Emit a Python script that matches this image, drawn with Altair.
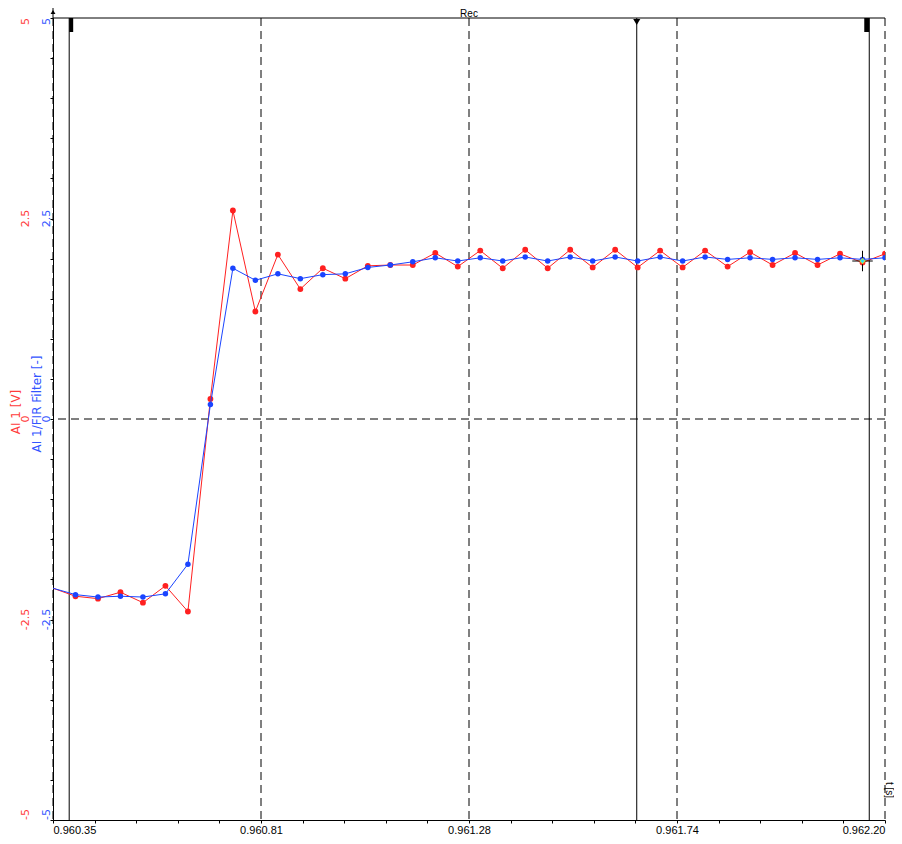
import altair as alt
import pandas as pd
import numpy as np

# ---------------- data ----------------
t = [0.96035, 0.96040, 0.96045, 0.96050, 0.96055, 0.96060, 0.96065, 0.96070,
     0.96075, 0.96080, 0.96085, 0.96090, 0.96095, 0.96100, 0.96105, 0.96110,
     0.96115, 0.96120, 0.96125, 0.96130, 0.96135, 0.96140, 0.96145, 0.96150,
     0.96155, 0.96160, 0.96165, 0.96170, 0.96175, 0.96180, 0.96185, 0.96190,
     0.96195, 0.96200, 0.96205, 0.96210, 0.96215, 0.96220]
ai1 = [-2.11, -2.21, -2.24, -2.16, -2.29, -2.08, -2.40, 0.25,
       2.60, 1.34, 2.05, 1.62, 1.88, 1.75, 1.91, 1.92,
       1.92, 2.07, 1.90, 2.10, 1.88, 2.11, 1.88, 2.11,
       1.89, 2.11, 1.89, 2.10, 1.89, 2.10, 1.90, 2.08,
       1.92, 2.07, 1.92, 2.06, 1.95, 2.06]
fir = [-2.11, -2.19, -2.22, -2.21, -2.22, -2.18, -1.81, 0.18,
       1.88, 1.73, 1.81, 1.75, 1.80, 1.81, 1.89, 1.92,
       1.96, 2.01, 1.97, 2.01, 1.97, 2.02, 1.97, 2.02,
       1.97, 2.02, 1.97, 2.02, 1.97, 2.02, 1.99, 2.01,
       1.99, 2.01, 1.99, 2.01, 1.99, 2.01]

x_tick_values = [0.96035, 0.9608125, 0.961275, 0.9617375, 0.9622]
x_tick_labels = ["0.960.35", "0.960.81", "0.961.28", "0.961.74", "0.962.20"]
y_tick_values = [-5, -2.5, 0, 2.5, 5]
y_tick_labels = ["-5", "-2.5", "0", "2.5", "5"]

cursor_positions = [0.960386, 0.961648, 0.962165]
crosshair_t = [0.96215]
crosshair_v = [1.97]

title_red = "AI 1 [V]"
title_blue = "AI 1/FIR Filter [-]"
title_x = "t [s]"
title_top = "Rec"

RED = "#ff2020"
BLUE = "#1a44ff"
RED_TXT = "#ff3b3b"
BLUE_TXT = "#3355ff"
FONT = "Liberation Sans"
FONT_Y = "DejaVu Sans"

# ---------------- layout ----------------
W, H = 832, 802
N_SUB = 10
x_minor = [round(float(v), 10) for v in
           np.linspace(x_tick_values[0], x_tick_values[-1], (len(x_tick_values) - 1) * N_SUB + 1)]
x_label_expr = ""
for v, lab in zip(x_tick_values, x_tick_labels):
    x_label_expr += "abs(datum.value-(%r))<1e-9?'%s':" % (v, lab)
x_label_expr += "''"

Y_SUB = 5
y_minor = [round(float(v), 6) for v in
           np.linspace(y_tick_values[0], y_tick_values[-1], (len(y_tick_values) - 1) * Y_SUB + 1)]

xs = alt.Scale(domain=[x_tick_values[0], x_tick_values[-1]], nice=False, zero=False)
ys = alt.Scale(domain=[y_tick_values[0], y_tick_values[-1]], nice=False, zero=False)

x_axis = alt.Axis(
    orient="bottom", values=x_minor, labelExpr=x_label_expr, labelFlush=True,
    labelOverlap=False, tickSize=3, tickColor="black", domainColor="black",
    labelColor="black", labelFont=FONT, labelFontSize=11, labelPadding=1,
    grid=False, title=None,
)
y_axis = alt.Axis(
    orient="left", values=y_minor, labels=False, tickSize=3, tickColor="black",
    domainColor="black", grid=False, title=None,
)

df = pd.DataFrame({"t": t, "ai1": ai1, "fir": fir})
pts_df = df[df["t"] > t[0] + 0.00001]
grid_df = pd.DataFrame({"t": x_tick_values})
zero_df = pd.DataFrame({"v": [0]})
cur_df = pd.DataFrame({"c": cursor_positions})
cross_df = pd.DataFrame({"t": crosshair_t, "v": crosshair_v})
frame_df = pd.DataFrame({"a": [x_tick_values[0]], "b": [x_tick_values[-1]]})
ylab_df = pd.DataFrame({"v": y_tick_values, "lab": y_tick_labels})
one = pd.DataFrame({"k": [0]})

# no axis=None anywhere: an explicit null axis in any layer disables the merged axis
X = lambda f: alt.X(f, scale=xs)
Y = lambda f: alt.Y(f, scale=ys)

# ---------------- layers ----------------
zero = alt.Chart(zero_df).mark_rule(color="black", strokeWidth=1, strokeDash=[8, 5]).encode(
    y=alt.Y("v:Q", scale=ys, axis=y_axis))
grid = alt.Chart(grid_df).mark_rule(color="black", strokeWidth=1, strokeDash=[8, 5]).encode(
    x=alt.X("t:Q", scale=xs, axis=x_axis))
frame_top = alt.Chart(frame_df).mark_rule(color="black", strokeWidth=1).encode(
    x=X("a:Q"), x2="b:Q", y=alt.value(0))

cursors = alt.Chart(cur_df).mark_rule(color="black", strokeWidth=1).encode(x=X("c:Q"))
cur1_mark = alt.Chart(cur_df.iloc[[0]]).mark_rule(color="black", strokeWidth=4, xOffset=2).encode(
    x=X("c:Q"), y=alt.value(0), y2=alt.value(14))
cur3_mark = alt.Chart(cur_df.iloc[[2]]).mark_rule(color="black", strokeWidth=5, xOffset=-2.5).encode(
    x=X("c:Q"), y=alt.value(0), y2=alt.value(14))
cur2_mark = alt.Chart(cur_df.iloc[[1]]).mark_point(
    shape="triangle-down", filled=True, color="black", size=50, opacity=1).encode(
    x=X("c:Q"), y=alt.value(4))

arrow_df = pd.DataFrame({"c": [x_tick_values[0]]})
arrow_line = alt.Chart(arrow_df).mark_rule(color="black", strokeWidth=1).encode(
    x=X("c:Q"), y=alt.value(-10), y2=alt.value(0))
arrow_head = alt.Chart(arrow_df).mark_point(
    shape="triangle-up", filled=True, color="black", size=24, opacity=1).encode(
    x=X("c:Q"), y=alt.value(-6))

red_line = alt.Chart(df).mark_line(color=RED, strokeWidth=1, clip=True).encode(
    x=X("t:Q"), y=Y("ai1:Q"))
red_pts = alt.Chart(pts_df).mark_circle(color=RED, size=34, opacity=1, clip=True).encode(
    x=X("t:Q"), y=Y("ai1:Q"))
blue_line = alt.Chart(df).mark_line(color=BLUE, strokeWidth=1, clip=True).encode(
    x=X("t:Q"), y=Y("fir:Q"))
blue_pts = alt.Chart(pts_df).mark_circle(color=BLUE, size=30, opacity=1, clip=True).encode(
    x=X("t:Q"), y=Y("fir:Q"))

cross = alt.Chart(cross_df).mark_point(
    shape="M-1,0L1,0M0,-1L0,1", stroke="black", strokeWidth=1, filled=False,
    size=420, opacity=1).encode(x=X("t:Q"), y=Y("v:Q"))
cross_dot = alt.Chart(cross_df).mark_point(
    shape="diamond", filled=True, color="#33e0f0", stroke="#f0e020", strokeWidth=1,
    size=30, opacity=1).encode(x=X("t:Q"), y=Y("v:Q"))


def y_labels(color, xpix):
    """Rotated tick labels: bottom one starts at its tick, top one ends at its tick."""
    out = []
    lo, hi = y_tick_values[0], y_tick_values[-1]
    for flt, align in [("datum.v == %s" % lo, "left"),
                       ("datum.v != %s && datum.v != %s" % (lo, hi), "center"),
                       ("datum.v == %s" % hi, "right")]:
        out.append(alt.Chart(ylab_df).transform_filter(flt).mark_text(
            angle=270, align=align, baseline="middle", color=color, font=FONT_Y,
            fontSize=11).encode(x=alt.value(xpix), y=Y("v:Q"), text="lab:N"))
    return out


def free_text(txt, color, xpix, ypix, angle, font=FONT_Y, size=12, baseline="middle"):
    return alt.Chart(one).mark_text(
        text=txt, angle=angle, align="center", baseline=baseline, color=color,
        font=font, fontSize=size).encode(x=alt.value(xpix), y=alt.value(ypix))


layers = [zero, grid, frame_top, cursors, cur1_mark, cur3_mark, cur2_mark,
          arrow_line, arrow_head, red_line, red_pts, blue_line, blue_pts,
          cross, cross_dot]
layers += y_labels(RED_TXT, -27)
layers += y_labels(BLUE_TXT, -6.5)
layers += [free_text(title_red, RED_TXT, -37.5, 394, 270),
           free_text(title_blue, BLUE_TXT, -16, 386, 270),
           free_text(title_x, "black", 836, 772, 90, font=FONT, size=10),
           free_text(title_top, "black", W / 2, -1, 0, font=FONT, size=10,
                     baseline="alphabetic")]

chart = alt.layer(*layers).properties(
    width=W, height=H,
    autosize=alt.AutoSizeParams(type="none"),
    padding={"left": 45, "top": 10, "right": 9, "bottom": 16},
).configure_view(stroke=None)

chart.save("out.html", embed_options={"renderer": "svg", "actions": False})
